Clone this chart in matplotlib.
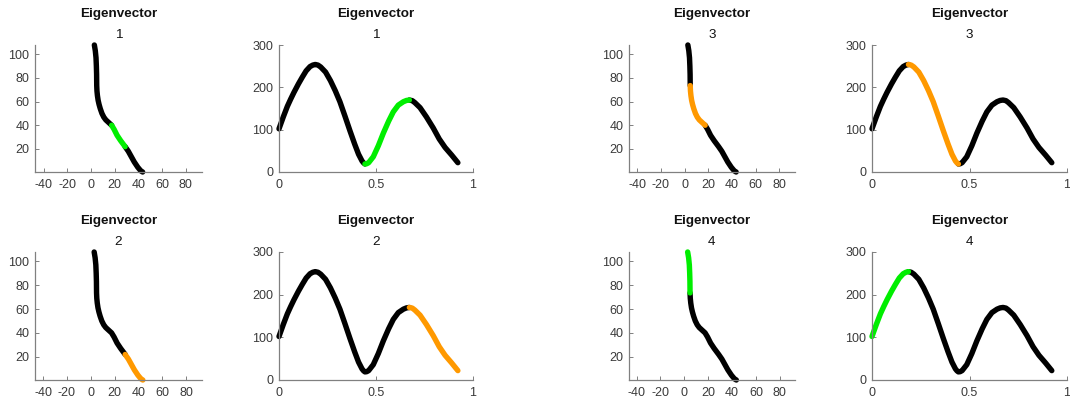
import matplotlib
matplotlib.use("Agg")
import matplotlib.pyplot as plt

plt.rcParams['font.family'] = ['Liberation Sans', 'DejaVu Sans']
plt.rcParams['axes.unicode_minus'] = False

# Profile value along the normalised curve parameter
wave_t = [0.000, 0.022, 0.043, 0.060, 0.077, 0.100, 0.120, 0.140, 0.160, 0.174,
          0.187, 0.201, 0.215, 0.240, 0.265, 0.290, 0.314, 0.340, 0.366, 0.390,
          0.410, 0.428, 0.436, 0.443, 0.452, 0.462, 0.486, 0.512, 0.538, 0.565,
          0.589, 0.615, 0.641, 0.657, 0.672, 0.687, 0.700, 0.727, 0.760, 0.795,
          0.826, 0.856, 0.890, 0.922]
wave_v = [102, 130, 155, 172, 188, 208, 224, 239, 249, 252.5,
          254, 252.5, 248, 236, 216, 192, 166, 132, 97, 66,
          42, 26, 21.5, 19, 19.5, 22, 36, 62, 92, 120,
          142, 158, 166, 169, 170, 168.5, 164, 152, 130, 104,
          78, 58, 40, 22]
# indices in wave_t where the segments meet (extrema of the profile)
wave_breaks = [0, 10, 23, 34, 43]

# Spatial curve traced from top to bottom
curve_x = [2.8, 3.6, 4.2, 4.5, 4.7, 4.75, 4.8, 5.0, 5.4, 6.0, 6.8, 7.8, 9.2,
           10.8, 12.5, 15.0, 17.4, 19.5, 22.0, 25.0, 28.8, 31.5, 34.0, 36.5,
           39.5, 42.0, 43.6]
curve_y = [107.8, 103.0, 97.0, 90.0, 83.0, 78.0, 73.5, 69.0, 65.0, 61.0, 57.5,
           54.0, 50.0, 46.8, 44.5, 42.2, 40.0, 36.5, 31.5, 27.0, 21.9, 18.0,
           13.5, 9.0, 4.5, 1.5, 0.5]
curve_breaks = [0, 6, 16, 20, 26]

# eigenvector number -> (highlighted segment, colour)
eigenvectors = [1, 2, 3, 4]
highlight_segment = {1: 2, 2: 3, 3: 1, 4: 0}
highlight_color = {1: '#00ee00', 2: '#ff9900', 3: '#ff9900', 4: '#00ee00'}

W, H = 1070, 403
fig = plt.figure(figsize=(W / 100, H / 100), dpi=100)

spine_col = '#808080'
text_col = '#3a3a3a'
lw = 3.9


def box(l, r, t, b):
    return [l / W, 1 - b / H, (r - l) / W, (b - t) / H]


rows = {0: (45, 172), 1: (252, 380)}
cols_curve = [(35, 202), (629, 795)]
cols_wave = [(279, 473), (872, 1067)]

layout = {1: (0, 0), 2: (1, 0), 3: (0, 1), 4: (1, 1)}


def style(ax):
    for s in ['top', 'right']:
        ax.spines[s].set_visible(False)
    for s in ['left', 'bottom']:
        ax.spines[s].set_color(spine_col)
        ax.spines[s].set_linewidth(0.9)
    ax.tick_params(direction='in', length=3, width=0.7, color=spine_col,
                   labelcolor=text_col, labelsize=9)
    ax.tick_params(axis='x', pad=5)
    ax.tick_params(axis='y', pad=4)


def titles(ax, k):
    ax.annotate('Eigenvector', xy=(0.5, 1), xycoords='axes fraction',
                xytext=(0, 22.3), textcoords='offset points', ha='center',
                va='center', fontsize=9.7, fontweight='bold', color='#111111')
    ax.annotate(str(k), xy=(0.5, 1), xycoords='axes fraction',
                xytext=(0, 7.2), textcoords='offset points', ha='center',
                va='center', fontsize=9.7, color='#111111')


def draw_segments(ax, xs, ys, breaks, seg, col):
    a, b = breaks[seg], breaks[seg + 1]
    if a > 0:
        ax.plot(xs[:a + 1], ys[:a + 1], color='black', lw=lw,
                solid_capstyle='round', solid_joinstyle='round', clip_on=False)
    if b < len(xs) - 1:
        ax.plot(xs[b:], ys[b:], color='black', lw=lw,
                solid_capstyle='round', solid_joinstyle='round', clip_on=False)
    ax.plot(xs[a:b + 1], ys[a:b + 1], color=col, lw=lw,
            solid_capstyle='round', solid_joinstyle='round', clip_on=False)


for k in eigenvectors:
    r, c = layout[k]
    top, bot = rows[r]
    seg = highlight_segment[k]
    col = highlight_color[k]

    # spatial curve panel
    l, rr = cols_curve[c]
    ax = fig.add_axes(box(l, rr, top, bot))
    draw_segments(ax, curve_x, curve_y, curve_breaks, seg, col)
    y0, y1 = min(curve_y), max(curve_y)
    xc = (min(curve_x) + max(curve_x)) / 2
    half = (y1 - y0) * (rr - l) / (bot - top) / 2
    ax.set_ylim(y0, y1)
    ax.set_xlim(xc - half, xc + half)
    ax.set_xticks([-40, -20, 0, 20, 40, 60, 80])
    ax.set_yticks([20, 40, 60, 80, 100])
    style(ax)
    titles(ax, k)

    # profile panel
    l, rr = cols_wave[c]
    ax = fig.add_axes(box(l, rr, top, bot))
    draw_segments(ax, wave_t, wave_v, wave_breaks, seg, col)
    ax.set_xlim(0, 1)
    ax.set_ylim(0, 300)
    ax.set_xticks([0, 0.5, 1])
    ax.set_xticklabels(['0', '0.5', '1'])
    ax.set_yticks([0, 100, 200, 300])
    style(ax)
    titles(ax, k)

fig.savefig('out.png', dpi=100, facecolor='white')
